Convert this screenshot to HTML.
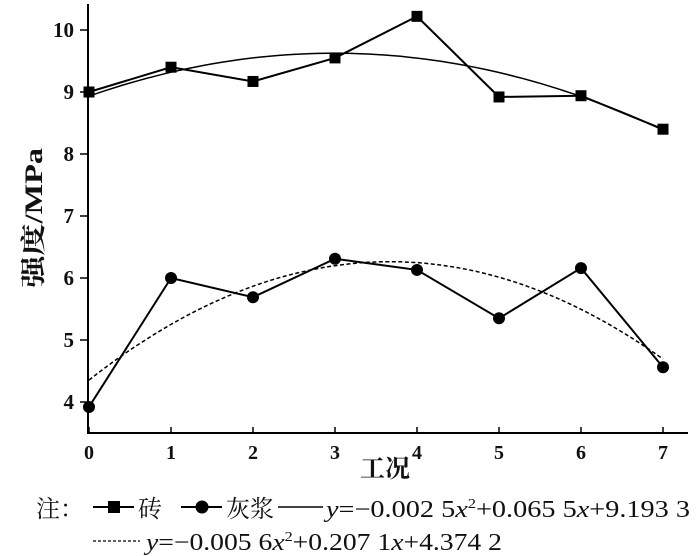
<!DOCTYPE html>
<html><head><meta charset="utf-8"><style>
html,body{margin:0;padding:0;background:#fff;width:700px;height:556px;overflow:hidden}
svg{display:block}
.t{font-family:"Liberation Serif","Noto Serif CJK SC",serif;fill:#111}
</style></head><body>
<svg id="c" width="700" height="556" xmlns="http://www.w3.org/2000/svg">
<g id="axes"></g><g id="marks"></g>
<text class="t" x="385" y="477" font-size="25" text-anchor="middle" font-weight="bold" font-family="Noto Serif CJK SC,serif">工况</text>
<text class="t" transform="translate(42,218) rotate(-90)" font-size="25" font-weight="bold" text-anchor="middle" textLength="140" lengthAdjust="spacingAndGlyphs">强度/MPa</text>
<g>
<text class="t" x="36" y="517" font-size="24" font-family="Noto Serif CJK SC,serif">注：</text>
<g>
<line x1="93" y1="507" x2="134" y2="507" stroke="#000" stroke-width="2"/>
<rect x="108" y="501" width="12" height="12" fill="#000"/>
<text class="t" x="138" y="517" font-size="24" font-family="Noto Serif CJK SC,serif">砖</text></g>
<g>
<line x1="181" y1="507" x2="222" y2="507" stroke="#000" stroke-width="2"/>
<circle cx="202" cy="507" r="6.5" fill="#000"/>
<text class="t" x="226" y="517" font-size="24" font-family="Noto Serif CJK SC,serif">灰浆</text></g>
<g>
<line x1="278" y1="507" x2="323" y2="507" stroke="#000" stroke-width="1.5"/>
<text class="t" x="326" y="517" font-size="24" textLength="364" lengthAdjust="spacingAndGlyphs"><tspan font-style="italic">y</tspan>=−0.002 5<tspan font-style="italic">x</tspan><tspan font-size="14" dy="-9">2</tspan><tspan dy="9">+0.065 5</tspan><tspan font-style="italic">x</tspan>+9.193 3</text></g>
<g>
<line x1="93" y1="541" x2="140" y2="541" stroke="#000" stroke-width="1.3" stroke-dasharray="3,2"/>
<text class="t" x="146" y="550" font-size="24" textLength="356" lengthAdjust="spacingAndGlyphs"><tspan font-style="italic">y</tspan>=−0.005 6<tspan font-style="italic">x</tspan><tspan font-size="14" dy="-9">2</tspan><tspan dy="9">+0.207 1</tspan><tspan font-style="italic">x</tspan>+4.374 2</text></g>
</g>
</svg>
<script>
const categories=[0,1,2,3,4,5,6,7];
const brickValues=[9.0,9.4,9.17,9.55,10.22,8.92,8.94,8.4];
const mortarValues=[3.92,6.0,5.69,6.31,6.13,5.35,6.16,4.56];
const yTicks=[4,5,6,7,8,9,10];
const xTicks=[0,1,2,3,4,5,6,7];
const NS="http://www.w3.org/2000/svg";
const X=v=>89+v*82, Y=v=>92+(9-v)*62;
function mk(tag,attrs,parent){const e=document.createElementNS(NS,tag);for(const k in attrs)e.setAttribute(k,attrs[k]);parent.appendChild(e);return e;}
const ax=document.getElementById('axes'), mg=document.getElementById('marks');
let l=mk('line',{x1:88,y1:4,x2:88,y2:433,stroke:'#000','stroke-width':2},ax);


l=mk('line',{x1:87,y1:433,x2:688,y2:433,stroke:'#000','stroke-width':2},ax);


yTicks.forEach(v=>{
 mk('line',{x1:80,x2:88,y1:Y(v),y2:Y(v),stroke:'#000','stroke-width':1.5},ax);
 const t=mk('text',{x:74,y:Y(v)+7,'text-anchor':'end','font-size':21,'font-weight':'bold',class:'t'},ax);t.textContent=v;
 
 
});
xTicks.forEach(v=>{
 mk('line',{x1:X(v),x2:X(v),y1:427,y2:433,stroke:'#000','stroke-width':1.5},ax);
 const t=mk('text',{x:X(v),y:459,'text-anchor':'middle','font-size':20,'font-weight':'bold',class:'t'},ax);t.textContent=v;
 
 
});
function fit(xs,ys){let S=[0,0,0,0,0],T=[0,0,0];xs.forEach((x,i)=>{for(let k=0;k<5;k++)S[k]+=x**k;for(let k=0;k<3;k++)T[k]+=ys[i]*x**k;});
 const A=[[S[0],S[1],S[2],T[0]],[S[1],S[2],S[3],T[1]],[S[2],S[3],S[4],T[2]]];
 for(let i=0;i<3;i++){for(let j=i+1;j<3;j++){const f=A[j][i]/A[i][i];for(let k=i;k<4;k++)A[j][k]-=f*A[i][k];}}
 const c=[0,0,0];for(let i=2;i>=0;i--){let s=A[i][3];for(let k=i+1;k<3;k++)s-=A[i][k]*c[k];c[i]=s/A[i][i];}return c;}
function trend(ys,name,dash){const c=fit(categories,ys);let d='';for(let i=0;i<=70;i++){const x=i/10;d+=(i?'L':'M')+X(x).toFixed(1)+','+Y(c[0]+c[1]*x+c[2]*x*x).toFixed(1);}
 const p=mk('path',{d:d,fill:'none',stroke:'#000','stroke-width':1.5},mg);if(dash)p.setAttribute('stroke-dasharray','4,2.5');
 
 }
trend(brickValues,'brick-trend-line',false);
trend(mortarValues,'mortar-trend-line',true);
function series(ys,name,shape){
 const p=mk('polyline',{points:categories.map((c,i)=>X(c)+','+Y(ys[i])).join(' '),fill:'none',stroke:'#000','stroke-width':2},mg);
 
 
 categories.forEach((c,i)=>{let m;
  if(shape==='sq')m=mk('rect',{x:X(c)-5.5,y:Y(ys[i])-5.5,width:11,height:11,fill:'#000'},mg);
  else m=mk('circle',{cx:X(c),cy:Y(ys[i]),r:6,fill:'#000'},mg);
  
  });}
series(brickValues,'brick','sq');
series(mortarValues,'mortar','c');
</script>
</body></html>
